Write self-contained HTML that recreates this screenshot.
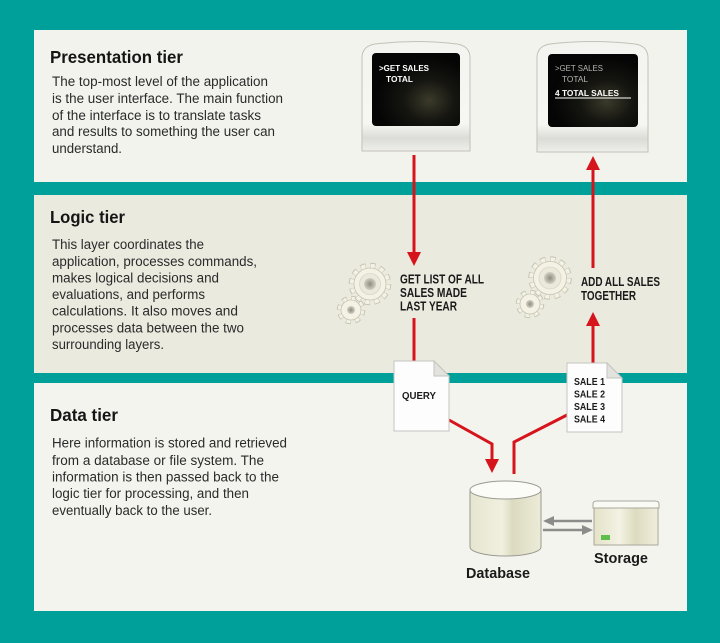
<!DOCTYPE html>
<html><head><meta charset="utf-8"><style>
html,body{margin:0;padding:0;background:#00a09a;}
svg{display:block;}
text{font-family:"Liberation Sans",Arial,sans-serif;}
</style></head><body>
<svg width="720" height="643" viewBox="0 0 720 643" xmlns="http://www.w3.org/2000/svg">
<defs>
<linearGradient id="frame" x1="0" y1="0" x2="0" y2="1">
<stop offset="0" stop-color="#f3f3ef"/><stop offset="0.75" stop-color="#f6f6f3"/><stop offset="0.88" stop-color="#dcdcd7"/><stop offset="1" stop-color="#eeeeea"/>
</linearGradient>
<radialGradient id="scr" cx="0.65" cy="0.65" r="0.6">
<stop offset="0" stop-color="#3b3a2a"/><stop offset="0.5" stop-color="#141410"/><stop offset="1" stop-color="#050505"/>
</radialGradient>
<radialGradient id="hub" cx="0.5" cy="0.5" r="0.5">
<stop offset="0" stop-color="#8d8c80"/><stop offset="1" stop-color="#d2d0c2"/>
</radialGradient>
<linearGradient id="cyl" x1="0" y1="0" x2="1" y2="0">
<stop offset="0" stop-color="#e6e5cf"/><stop offset="0.45" stop-color="#f1f0e0"/><stop offset="0.6" stop-color="#dcdbc0"/><stop offset="1" stop-color="#ecebd8"/>
</linearGradient>
<linearGradient id="box" x1="0" y1="0" x2="1" y2="0">
<stop offset="0" stop-color="#e4e2c8"/><stop offset="0.4" stop-color="#f3f2e4"/><stop offset="0.65" stop-color="#dddbbf"/><stop offset="1" stop-color="#efeedd"/>
</linearGradient>
</defs>

<!-- panels -->
<rect x="34" y="30" width="653" height="152" fill="#f3f3ee"/>
<rect x="34" y="195" width="653" height="178" fill="#ebeadf"/>
<rect x="34" y="383" width="653" height="228" fill="#f4f4ef"/>

<!-- Presentation text -->
<text x="50" y="63" font-size="17.5" font-weight="bold" fill="#151515" textLength="133" lengthAdjust="spacingAndGlyphs">Presentation tier</text>
<g font-size="13.5" fill="#2a2a2a">
<text x="52" y="86" textLength="216" lengthAdjust="spacingAndGlyphs">The top-most level of the application</text>
<text x="52" y="103" textLength="231" lengthAdjust="spacingAndGlyphs">is the user interface. The main function</text>
<text x="52" y="120" textLength="209" lengthAdjust="spacingAndGlyphs">of the interface is to translate tasks</text>
<text x="52" y="136" textLength="223" lengthAdjust="spacingAndGlyphs">and results to something the user can</text>
<text x="52" y="153" textLength="70" lengthAdjust="spacingAndGlyphs">understand.</text>
</g>

<!-- Logic text -->
<text x="50" y="223" font-size="17.5" font-weight="bold" fill="#151515" textLength="75" lengthAdjust="spacingAndGlyphs">Logic tier</text>
<g font-size="13.5" fill="#2a2a2a">
<text x="52" y="249" textLength="152" lengthAdjust="spacingAndGlyphs">This layer coordinates the</text>
<text x="52" y="266" textLength="205" lengthAdjust="spacingAndGlyphs">application, processes commands,</text>
<text x="52" y="282.5" textLength="167" lengthAdjust="spacingAndGlyphs">makes logical decisions and</text>
<text x="52" y="299" textLength="153" lengthAdjust="spacingAndGlyphs">evaluations, and performs</text>
<text x="52" y="315.5" textLength="186" lengthAdjust="spacingAndGlyphs">calculations.  It also moves and</text>
<text x="52" y="332.5" textLength="192" lengthAdjust="spacingAndGlyphs">processes data between the two</text>
<text x="52" y="349" textLength="112" lengthAdjust="spacingAndGlyphs">surrounding layers.</text>
</g>

<!-- Data text -->
<text x="50" y="421" font-size="17.5" font-weight="bold" fill="#151515" textLength="68" lengthAdjust="spacingAndGlyphs">Data tier</text>
<g font-size="13.5" fill="#2a2a2a">
<text x="52" y="447.5" textLength="235" lengthAdjust="spacingAndGlyphs">Here information is stored and retrieved</text>
<text x="52" y="465" textLength="212" lengthAdjust="spacingAndGlyphs">from a database or file system.  The</text>
<text x="52" y="481.5" textLength="227" lengthAdjust="spacingAndGlyphs">information is then passed back to the</text>
<text x="52" y="498" textLength="197" lengthAdjust="spacingAndGlyphs">logic tier for processing, and then</text>
<text x="52" y="515" textLength="160" lengthAdjust="spacingAndGlyphs">eventually back to the user.</text>
</g>

<!-- Monitor 1 -->
<path d="M362,151 L362,58 Q362,46 375,44 Q416,39 457,44 Q470,46 470,58 L470,151 Z" fill="url(#frame)" stroke="#c3c2b6" stroke-width="1"/>
<rect x="372" y="53" width="88" height="73" rx="4" fill="url(#scr)"/>
<text x="379" y="71" font-size="8.5" font-weight="bold" fill="#fff" textLength="50" lengthAdjust="spacingAndGlyphs">&gt;GET SALES</text>
<text x="386" y="82" font-size="8.5" font-weight="bold" fill="#fff" textLength="27" lengthAdjust="spacingAndGlyphs">TOTAL</text>

<!-- Monitor 2 -->
<path d="M537,152 L537,58 Q537,46 550,44 Q592,39 635,44 Q648,46 648,58 L648,152 Z" fill="url(#frame)" stroke="#c3c2b6" stroke-width="1"/>
<rect x="548" y="54" width="90" height="73" rx="4" fill="url(#scr)"/>
<text x="555" y="71" font-size="8.5" fill="#b5b5b0" textLength="48" lengthAdjust="spacingAndGlyphs">&gt;GET SALES</text>
<text x="562" y="82" font-size="8.5" fill="#b5b5b0" textLength="26" lengthAdjust="spacingAndGlyphs">TOTAL</text>
<text x="555" y="96" font-size="8.5" font-weight="bold" fill="#fff" textLength="64" lengthAdjust="spacingAndGlyphs">4 TOTAL SALES</text>
<line x1="555" y1="98" x2="631" y2="98" stroke="#fff" stroke-width="1"/>

<!-- Red connectors -->
<g stroke="#d6141b" stroke-width="3" fill="none">
<line x1="414" y1="155" x2="414" y2="254"/>
<line x1="414" y1="318" x2="414" y2="362"/>
<line x1="593" y1="169" x2="593" y2="268"/>
<line x1="593" y1="324" x2="593" y2="364"/>
<polyline points="449,420 492,444 492,460"/>
<polyline points="567,415 514,442 514,474"/>
</g>
<g fill="#d6141b">
<polygon points="407,252 421,252 414,266"/>
<polygon points="586,170 600,170 593,156"/>
<polygon points="586,326 600,326 593,312"/>
<polygon points="485,459 499,459 492,473"/>
</g>

<!-- Gears 1 -->
<g>
<circle cx="351" cy="310" r="11.5" fill="none" stroke="#c6c3b0" stroke-width="5.5" stroke-dasharray="4.8 4.23"/>
<circle cx="351" cy="310" r="11.5" fill="none" stroke="#f4f2e4" stroke-width="3.6" stroke-dasharray="3.8 5.23" stroke-dashoffset="-0.5"/>
<circle cx="351" cy="310" r="10" fill="#f4f2e4" stroke="#c6c3b0" stroke-width="0.8"/>
<circle cx="351" cy="310" r="4" fill="url(#hub)"/>
<circle cx="370" cy="284" r="18" fill="none" stroke="#c6c3b0" stroke-width="6.5" stroke-dasharray="5.2 4.225"/>
<circle cx="370" cy="284" r="18" fill="none" stroke="#f4f2e4" stroke-width="4.5" stroke-dasharray="4.2 5.225" stroke-dashoffset="-0.5"/>
<circle cx="370" cy="284" r="16" fill="#f4f2e4" stroke="#c6c3b0" stroke-width="0.8"/>
<circle cx="370" cy="284" r="10.5" fill="#ebe9da" stroke="#d8d6c8" stroke-width="0.8"/>
<circle cx="370" cy="284" r="6" fill="url(#hub)"/>
</g>
<!-- Gears 2 -->
<g>
<circle cx="530" cy="304" r="11.5" fill="none" stroke="#c6c3b0" stroke-width="5.5" stroke-dasharray="4.8 4.23"/>
<circle cx="530" cy="304" r="11.5" fill="none" stroke="#f4f2e4" stroke-width="3.6" stroke-dasharray="3.8 5.23" stroke-dashoffset="-0.5"/>
<circle cx="530" cy="304" r="10" fill="#f4f2e4" stroke="#c6c3b0" stroke-width="0.8"/>
<circle cx="530" cy="304" r="4" fill="url(#hub)"/>
<circle cx="550" cy="278" r="18.5" fill="none" stroke="#c6c3b0" stroke-width="6.5" stroke-dasharray="5.3 4.38"/>
<circle cx="550" cy="278" r="18.5" fill="none" stroke="#f4f2e4" stroke-width="4.5" stroke-dasharray="4.3 5.38" stroke-dashoffset="-0.5"/>
<circle cx="550" cy="278" r="16.5" fill="#f4f2e4" stroke="#c6c3b0" stroke-width="0.8"/>
<circle cx="550" cy="278" r="11" fill="#ebe9da" stroke="#d8d6c8" stroke-width="0.8"/>
<circle cx="550" cy="278" r="6" fill="url(#hub)"/>
</g>

<!-- Logic labels -->
<g font-size="12.5" font-weight="bold" fill="#1a1a1a">
<text x="400" y="283.5" textLength="84" lengthAdjust="spacingAndGlyphs">GET LIST OF ALL</text>
<text x="400" y="297" textLength="67" lengthAdjust="spacingAndGlyphs">SALES MADE</text>
<text x="400" y="310.5" textLength="57" lengthAdjust="spacingAndGlyphs">LAST YEAR</text>
<text x="581" y="286" textLength="79" lengthAdjust="spacingAndGlyphs">ADD ALL SALES</text>
<text x="581" y="300" textLength="55" lengthAdjust="spacingAndGlyphs">TOGETHER</text>
</g>

<!-- Documents -->
<path d="M394,361 L434,361 L449,376 L449,431 L394,431 Z" fill="#fdfdfd" stroke="#c4c4c0" stroke-width="1"/>
<path d="M434,361 L434,376 L449,376 Z" fill="#e2e2de" stroke="#c4c4c0" stroke-width="1"/>
<text x="402" y="399" font-size="10.5" font-weight="bold" fill="#1a1a1a" textLength="34" lengthAdjust="spacingAndGlyphs">QUERY</text>

<path d="M567,363 L607,363 L622,378 L622,432 L567,432 Z" fill="#fdfdfd" stroke="#c4c4c0" stroke-width="1"/>
<path d="M607,363 L607,378 L622,378 Z" fill="#e2e2de" stroke="#c4c4c0" stroke-width="1"/>
<g font-size="10.5" font-weight="bold" fill="#1a1a1a">
<text x="574" y="385" textLength="31" lengthAdjust="spacingAndGlyphs">SALE 1</text>
<text x="574" y="397.5" textLength="31" lengthAdjust="spacingAndGlyphs">SALE 2</text>
<text x="574" y="410" textLength="31" lengthAdjust="spacingAndGlyphs">SALE 3</text>
<text x="574" y="422.5" textLength="31" lengthAdjust="spacingAndGlyphs">SALE 4</text>
</g>

<!-- Database -->
<path d="M470,490 L470,547 A35.5,9 0 0 0 541,547 L541,490 Z" fill="url(#cyl)" stroke="#9a9a92" stroke-width="1"/>
<ellipse cx="505.5" cy="490" rx="35.5" ry="9" fill="#fbfbf7" stroke="#9a9a92" stroke-width="1"/>
<text x="466" y="578" font-size="14.5" font-weight="bold" fill="#1a1a1a" textLength="64" lengthAdjust="spacingAndGlyphs">Database</text>

<!-- Gray arrows -->
<g stroke="#8c8c8a" stroke-width="2.5">
<line x1="592" y1="521" x2="552" y2="521"/>
<line x1="543" y1="530" x2="583" y2="530"/>
</g>
<g fill="#8c8c8a">
<polygon points="543,521 554,516 554,526"/>
<polygon points="593,530 582,525 582,535"/>
</g>

<!-- Storage -->
<path d="M594,545 L594,508 L658,508 L658,545 Z" fill="url(#box)" stroke="#a9a89c" stroke-width="1"/>
<path d="M593,508 L593,504 Q593,501 597,501 L655,501 Q659,501 659,504 L659,508 Z" fill="#fafaf5" stroke="#a9a89c" stroke-width="1"/>
<rect x="601" y="535" width="9" height="5" fill="#5fbf4a"/>
<text x="594" y="563" font-size="14.5" font-weight="bold" fill="#1a1a1a" textLength="54" lengthAdjust="spacingAndGlyphs">Storage</text>
</svg>
</body></html>
